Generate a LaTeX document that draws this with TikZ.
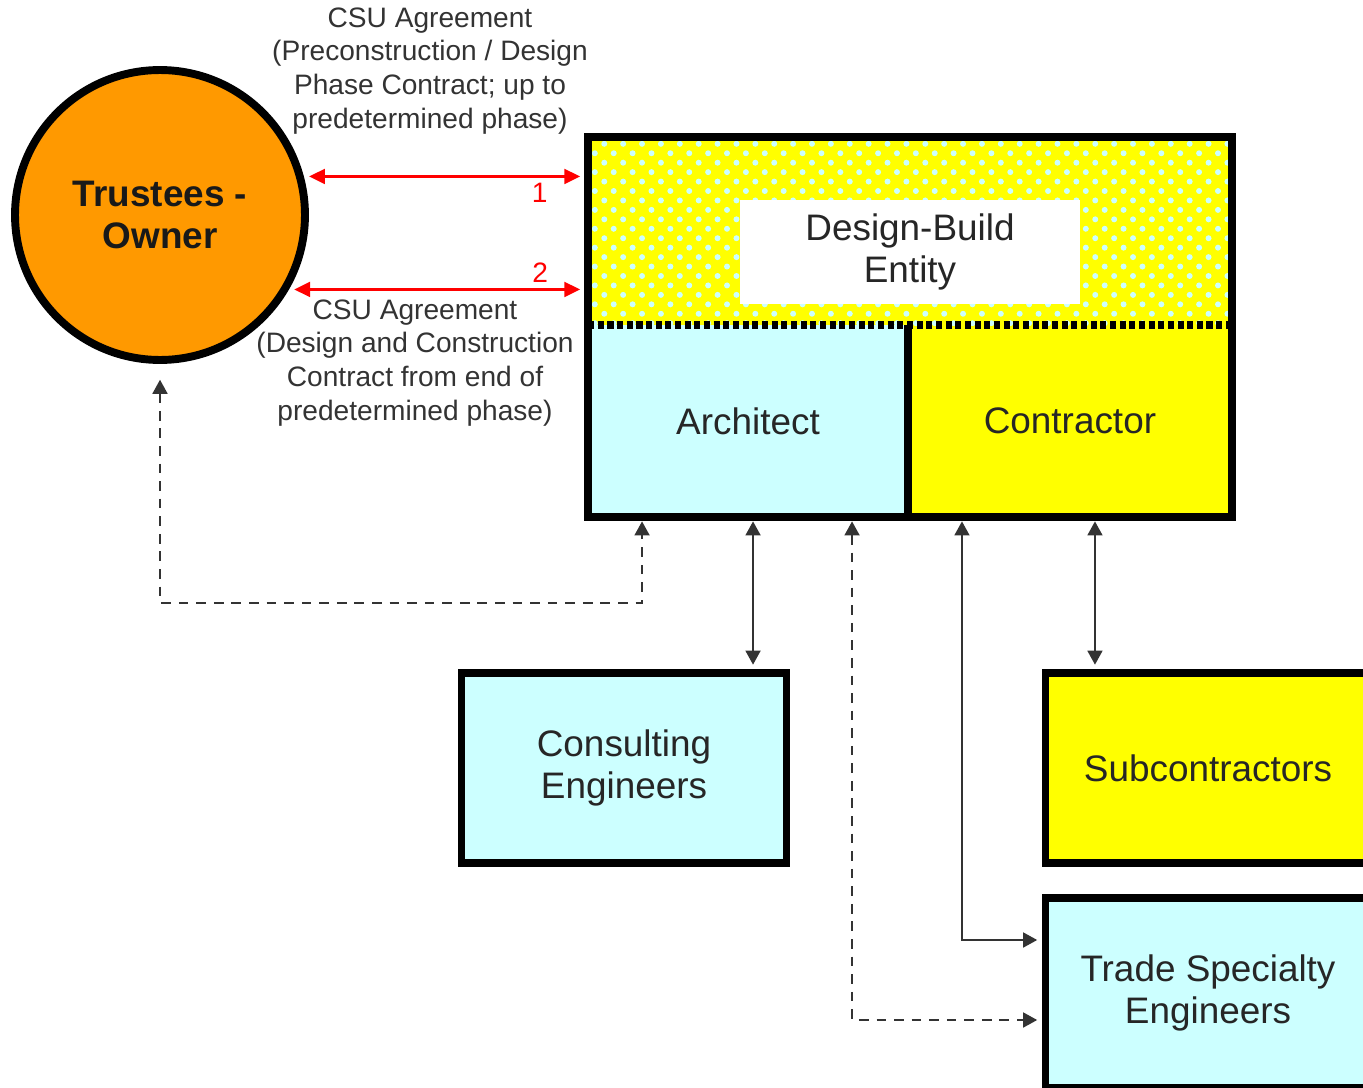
\documentclass[tikz,border=0pt]{standalone}
\usepackage{fontspec}
\setmainfont{Liberation Sans}
\usetikzlibrary{arrows.meta,calc,patterns.meta}
\definecolor{ownerorange}{HTML}{FF9900}
\definecolor{palecyan}{HTML}{CCFFFF}
\definecolor{boxyellow}{HTML}{FFFF00}

\begin{document}
\begin{tikzpicture}[x=0.02cm,y=-0.02cm,
        box/.style={draw,line width=4.5pt,minimum width=6.5cm,minimum height=3.8cm,align=center,font=\fontsize{21}{24}\selectfont,text=black!85},
        part/.style={outer sep=0pt,minimum height=3.84cm,align=center,font=\fontsize{21}{24}\selectfont,text=black!85},
        note/.style={align=center,font=\fontsize{16}{19.3}\selectfont,text=black!80},
        link/.style={draw=black!80,line width=1.1pt,{Triangle[length=8pt,width=8.5pt]}-{Triangle[length=8pt,width=8.5pt]},shorten <=2.5pt,shorten >=2.5pt},
        dashlink/.style={link,dash pattern=on 5.5pt off 4.5pt},
        redlink/.style={draw=red,line width=1.2pt,{Triangle[length=9pt,width=8.5pt]}-{Triangle[length=9pt,width=8.5pt]}}]

    \useasboundingbox (0,0) rectangle (1363,1088);

    \node[circle,draw,line width=4.5pt,fill=ownerorange,minimum size=5.8cm,align=center,
          font=\bfseries\fontsize{21}{24}\selectfont,text=black!90] (owner) at (160,215) {Trustees -\\Owner};

    \node[part,fill=palecyan,minimum width=6.4cm] (architect) at (748,421) {Architect};
    \node[part,fill=boxyellow,minimum width=6.48cm,anchor=west] (contractor) at (architect.east) {Contractor};
    \node[part,fill=boxyellow,minimum width=12.88cm,minimum height=3.76cm,anchor=south west,
          postaction={pattern={Dots[radius=1.7pt,distance=7.6pt,angle=45]},pattern color=palecyan}] (dbe) at (architect.north west) {};
    \node[part,fill=white,minimum width=6.8cm,minimum height=2.1cm] (dbname) at (910,252) {Design-Build\\Entity};

    \draw[line width=4.5pt] (architect.north east) -- (architect.south east);
    \draw[line width=5pt,dash pattern=on 3.5pt off 2pt] (architect.north west) -- (contractor.north east);
    \draw[line width=4.5pt] (dbe.north west) rectangle (contractor.south east);

    \node[box,fill=palecyan] (consult) at (624,768) {Consulting\\Engineers};
    \node[box,fill=boxyellow] (subs) at (1208,768) {Subcontractors};
    \node[box,fill=palecyan] (trade) at (1208,993) {Trade Specialty\\Engineers};

    \node[note] (topnote) at (430,71) {CSU Agreement\\(Preconstruction / Design\\Phase Contract; up to\\predetermined phase)};
    \node[note] (botnote) at (415,363) {CSU Agreement\\(Design and Construction\\Contract from end of\\predetermined phase)};

    \draw[redlink,shorten <=3pt,shorten >=4.5pt] (owner.15) -- (owner.15 -| dbe.west)
        node[pos=0.83,below,text=red,font=\fontsize{16}{19}\selectfont] (one) {1};
    \draw[redlink,shorten <=3pt,shorten >=4.5pt] (owner.-30) -- (owner.-30 -| dbe.west)
        node[pos=0.84,above,text=red,font=\fontsize{16}{19}\selectfont] (two) {2};

    \coordinate (c1) at ($(architect.south west)+(54,0)$);
    \coordinate (c2) at ($(architect.south west)+(165,0)$);
    \coordinate (c3) at ($(architect.south west)+(264,0)$);
    \coordinate (c4) at ($(contractor.south west)+(54,0)$);
    \coordinate (c5) at ($(contractor.south west)+(187,0)$);

    \draw[dashlink,shorten <=9pt] (owner.south) -- ++(0,239) -| (c1);
    \draw[link] (c2) -- (c2 |- consult.north);
    \draw[dashlink] (c3) |- ($(trade.west)+(0,27)$);
    \draw[link] (c4) |- ($(trade.west)+(0,-53)$);
    \draw[link] (c5) -- (c5 |- subs.north);
\end{tikzpicture}
\end{document}
